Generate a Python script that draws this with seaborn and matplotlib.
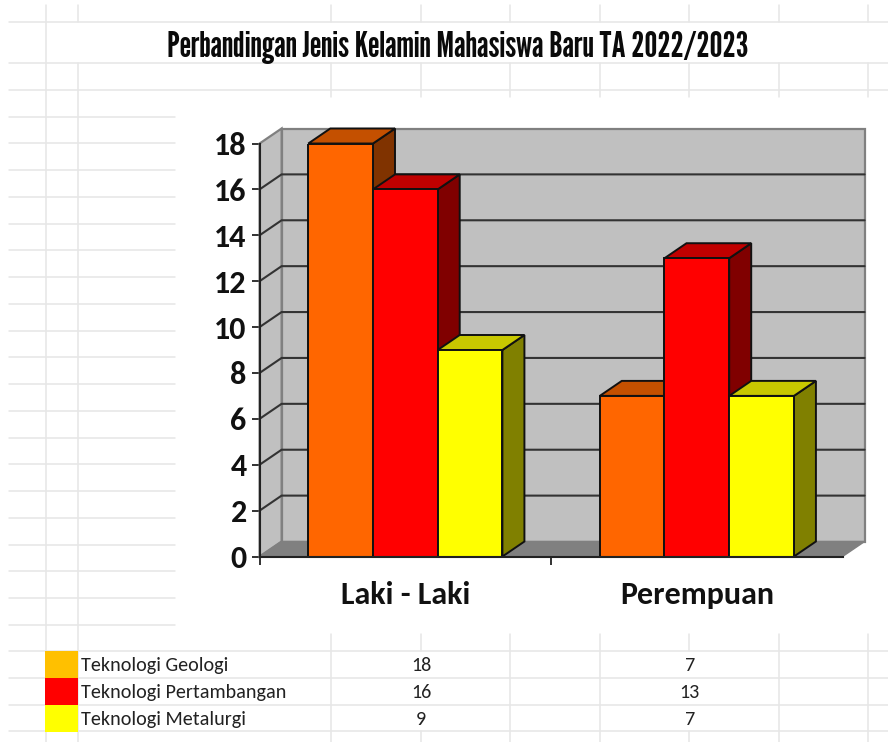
import matplotlib
matplotlib.use("Agg")
import matplotlib.pyplot as plt
import pandas as pd
import seaborn as sns
from matplotlib.patches import Polygon, Rectangle

sns.set_theme(style="white")

title = "Perbandingan Jenis Kelamin Mahasiswa Baru TA 2022/2023"
categories = ["Laki - Laki", "Perempuan"]
series_names = ["Teknologi Geologi", "Teknologi Pertambangan", "Teknologi Metalurgi"]
geologi = [18, 7]
pertambangan = [16, 13]
metalurgi = [9, 7]
y_ticks = [0, 2, 4, 6, 8, 10, 12, 14, 16, 18]

W, H = 888, 742
DPI = 100
GRID = "#e6e6e6"
FONT = ["Carlito", "Lato", "DejaVu Sans"]
TITLE_FONT = ["League Gothic", "Lato", "DejaVu Sans"]

front = ["#FF6600", "#FF0000", "#FFFF00"]
top_c = ["#C45000", "#C00000", "#C8C800"]
side_c = ["#803300", "#800000", "#808000"]
swatch = ["#FFC000", "#FF0000", "#FFFF00"]

fig = plt.figure(figsize=(W / DPI, H / DPI), dpi=DPI, facecolor="white")

# ---- spreadsheet background, in pixel coordinates
bg = fig.add_axes([0, 0, 1, 1], zorder=0)
bg.set_xlim(0, W)
bg.set_ylim(H, 0)
bg.axis("off")
lw = 1.1
for y in [21.5, 62.5, 89.5, 650.5, 677.5, 704.5, 731]:
    bg.plot([9, W], [y, y], color=GRID, lw=lw)
for k in range(20):
    y = 116.5 + 26.75 * k
    bg.plot([9, 175], [y, y], color=GRID, lw=lw)
bg.plot([45.5, 45.5], [5, H], color=GRID, lw=lw)
bg.plot([78, 78], [5, 21.5], color=GRID, lw=lw)
bg.plot([78, 78], [62.5, H], color=GRID, lw=lw)
for x in [331, 421, 510, 600, 689, 779, 868]:
    bg.plot([x, x], [5, 21.5], color=GRID, lw=lw)
    bg.plot([x, x], [62.5, 97], color=GRID, lw=lw)
    if x in (421, 689):
        bg.plot([x, x], [634, 650.5], color=GRID, lw=lw)
        bg.plot([x, x], [731, H], color=GRID, lw=lw)
    else:
        bg.plot([x, x], [634, H], color=GRID, lw=lw)

bg.text(457.5, 47, title, family=TITLE_FONT, fontsize=26.2,
        ha="center", va="center", color="#0a0a0a")

# ---- table under the chart
rows = [geologi, pertambangan, metalurgi]
for i, (name, vals) in enumerate(zip(series_names, rows)):
    top = 650.5 + 27 * i
    bg.add_patch(Rectangle((45, top), 33, 27, facecolor=swatch[i], edgecolor="none", zorder=3))
    yc = top + 15
    bg.text(81, yc, name, family=FONT, fontsize=14.5, va="center", ha="left", color="#222222")
    bg.text(421, yc, str(vals[0]), family=FONT, fontsize=14.5, va="center", ha="center", color="#222222")
    bg.text(689, yc, str(vals[1]), family=FONT, fontsize=14.5, va="center", ha="center", color="#222222")

# ---- chart
ax = fig.add_axes([259.6 / W, (H - 556.5) / H, 583 / W, 413 / H], zorder=1)
ax.patch.set_alpha(0)

df = pd.DataFrame({
    "kategori": categories * 3,
    "jurusan": [n for n in series_names for _ in categories],
    "jumlah": geologi + pertambangan + metalurgi,
})
sns.barplot(data=df, x="kategori", y="jumlah", hue="jurusan", hue_order=series_names,
            order=categories, palette=front, saturation=1, width=0.666, gap=0,
            legend=False, ax=ax, edgecolor="#111111", linewidth=1.4, errorbar=None)

x0, x1 = -0.5, 1.5
ymax = 18
ax.set_xlim(x0, x1)
ax.set_ylim(0, ymax)
DX = 22 / (583 / 2)      # depth of the 3-D box, in data units
DY = 15 / (413 / ymax)

def poly(pts, fc, ec, z, lw=1.4):
    ax.add_patch(Polygon(pts, closed=True, facecolor=fc, edgecolor=ec, linewidth=lw,
                         zorder=z, clip_on=False))

# walls and floor
poly([(x0 + DX, DY), (x1 + DX, DY), (x1 + DX, ymax + DY), (x0 + DX, ymax + DY)], "#C0C0C0", "#808080", 0.5, 1.6)
poly([(x0, 0), (x0 + DX, DY), (x0 + DX, ymax + DY), (x0, ymax)], "#C0C0C0", "#808080", 0.6, 1.6)
poly([(x0, 0), (x1, 0), (x1 + DX, DY), (x0 + DX, DY)], "#808080", "#808080", 0.7, 1.0)
for t in y_ticks[1:-1]:
    ax.plot([x0, x0 + DX, x1 + DX], [t, t + DY, t + DY], color="#333333", lw=1.5, zorder=0.8,
            clip_on=False, solid_joinstyle="miter")

# 3-D faces of every bar drawn by seaborn
for i, cont in enumerate(ax.containers):
    for bar in cont:
        xa, w, h = bar.get_x(), bar.get_width(), bar.get_height()
        xb = xa + w
        z = 3 + i
        poly([(xb, 0), (xb + DX, DY), (xb + DX, h + DY), (xb, h)], side_c[i], "#111111", z)
        poly([(xa, h), (xb, h), (xb + DX, h + DY), (xa + DX, h + DY)], top_c[i], "#111111", z)
        bar.set_zorder(z + 0.5)

# axes
sns.despine(ax=ax, top=True, right=True)
for s in ("left", "bottom"):
    ax.spines[s].set_color("#222222")
    ax.spines[s].set_linewidth(1.5)
    ax.spines[s].set_zorder(10)
ax.set_xlabel("")
ax.set_ylabel("")
ax.set_yticks(y_ticks)
ax.tick_params(axis="y", length=5.8, width=1.3, color="#222222", pad=3.5, left=True,
               labelsize=23)
for lab in ax.get_yticklabels():
    lab.set_fontfamily(FONT)
    lab.set_fontweight("bold")
    lab.set_color("#111111")
ax.set_xticks([0, 1])
ax.set_xticklabels(categories, family=FONT, fontweight="bold", fontsize=23, color="#111111")
ax.tick_params(axis="x", which="major", length=0, pad=17.5)
ax.set_xticks([x0, 0.5], minor=True)
ax.tick_params(axis="x", which="minor", length=5.8, width=1.3, color="#222222", bottom=True)

fig.savefig("out.png", dpi=DPI)
